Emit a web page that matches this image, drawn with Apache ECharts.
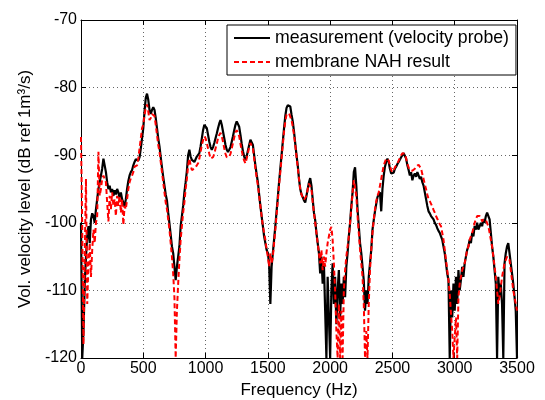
<!DOCTYPE html>
<html>
<head>
<meta charset="utf-8">
<script src="https://cdn.jsdelivr.net/npm/echarts@6/dist/echarts.min.js"></script>
<style>
html,body{margin:0;padding:0;background:#fff;}
#c{width:545px;height:400px;}
</style>
</head>
<body>
<div id="c"></div>
<script>
// Frequency grid step (Hz) of the sampled spectra
const freqStep = 10;
const xTicks = [0, 500, 1000, 1500, 2000, 2500, 3000, 3500];
const yTicks = [-120, -110, -100, -90, -80, -70];
const seriesNames = ['measurement (velocity probe)', 'membrane NAH result'];

// measurement (velocity probe), dB, every 10 Hz from 0 to 3500 Hz
const measurement = [
  -100, -120, -116, -109, -105, -102, -100.5, -103, -99.5, -98.6,
  -99, -100, -98, -96.5, -95, -94, -93, -92, -90.5, -91.5,
  -92.5, -94, -95, -94.5, -95.5, -95, -96, -95.2, -95.8, -95,
  -95.5, -96.3, -95.5, -96.5, -97, -97.6, -96.5, -95, -93.8, -93,
  -92.5, -92.2, -91.5, -91, -90.6, -90.5, -90.8, -90.3, -89, -87.5,
  -86, -83.5, -81.5, -80.9, -81.8, -83.3, -83.9, -83.3, -82.9, -83.3,
  -84.5, -86, -87.5, -88.7, -90.3, -91.8, -93.2, -94.5, -95.8, -96.7,
  -98.5, -100.1, -101.8, -103.5, -104.5, -106.5, -108.5, -106.5, -105, -103.5,
  -100.5, -99, -97.5, -95.5, -94, -92.3, -90, -89.2, -90.2, -90.7,
  -90.7, -91, -90.6, -90.2, -90.4, -89.7, -88.7, -87.5, -86.3, -85.5,
  -85.4, -86, -87, -88, -88.8, -89.2, -88.8, -88.2, -87.5, -86.8,
  -86, -85.3, -84.8, -85.5, -86.5, -87.5, -88.5, -89.2, -89.5, -89.2,
  -88.8, -88, -87.2, -86.3, -85.5, -85, -84.8, -85.8, -87, -88.3,
  -89.4, -90.2, -90.7, -90.2, -89.3, -88.5, -87.7, -87.5, -88.5, -90,
  -91.5, -92.8, -94, -95.8, -97.5, -99, -100.5, -102, -103, -104,
  -104.5, -106, -112, -106.5, -104.5, -102.5, -100.5, -98.3, -96.2, -94,
  -92, -90, -88, -86, -84.2, -83, -82.6, -82.5, -82.8, -84,
  -85, -86.5, -88.3, -90, -91.5, -93.5, -95, -95.8, -96.2, -96.7,
  -97, -96, -95, -94, -93.4, -94.5, -96.5, -98.5, -99.6, -101.5,
  -103, -104.5, -107.5, -105, -109, -106, -113, -120, -108, -114,
  -120, -110, -106, -112, -108, -115, -110, -107, -114, -109,
  -112, -108, -111, -106.5, -104.5, -102, -100, -97.5, -95.5, -92.5,
  -91.8, -94.5, -98, -100.5, -103, -104.5, -106.5, -108.5, -113, -110,
  -112, -108, -106, -104, -101, -99.6, -98.3, -97.2, -96.2, -95.8,
  -95.5, -98.3, -95, -93, -91.7, -91, -90.5, -91, -92, -92.7,
  -92.7, -92.6, -92, -91.7, -91.3, -91, -90.8, -90.3, -90, -89.7,
  -89.8, -90.5, -91.5, -92.2, -93, -92.5, -93.7, -93, -92.7, -93.2,
  -92.5, -93, -93.5, -93.2, -94, -94.5, -95.5, -96.5, -97.5, -98.3,
  -98.6, -99, -98.8, -99.5, -100, -100.3, -100.8, -101.2, -101.5, -102,
  -102.5, -103.5, -104.5, -106, -107.5, -108.5, -120, -110, -114, -109,
  -113, -108, -112, -107, -110, -108.4, -106.5, -108, -106, -105,
  -104, -103.5, -102.5, -103, -101.5, -102, -100.5, -101, -100, -101,
  -101, -100, -100.5, -99.5, -100, -99, -98.5, -98.3, -99.5, -101.5,
  -103.5, -105, -107, -109, -120, -108, -111, -109, -112, -120,
  -106, -104.5, -103.5, -103, -104.5, -106, -107.5, -109, -110.9, -113,
  -120
];

// membrane NAH result, dB, every 10 Hz from 0 to 3500 Hz
const nahResult = [
  -87.3, -101, -118, -105, -93.5, -112, -106, -103, -108, -104,
  -101, -103, -100, -99, -89.5, -96, -95, -93.5, -93, -92.9,
  -94, -97, -99.8, -96, -98, -95.5, -97.5, -96.5, -99, -96,
  -97.5, -96, -98.5, -96.5, -100.3, -97.5, -98, -96.5, -95, -94,
  -93.4, -93, -92.5, -91.7, -91.8, -91.5, -90.5, -89, -87.5, -86,
  -85.5, -84, -83, -82.5, -83.5, -84.8, -84.5, -83.9, -83.7, -84.2,
  -85.5, -87, -88.5, -89.5, -91, -92.5, -94, -95.5, -97, -98,
  -99.5, -101, -103, -105, -107.5, -111, -120, -113, -109, -105.5,
  -102.5, -100.5, -98.5, -97, -95, -93.5, -91.5, -90.5, -91.5, -92.2,
  -92.3, -92, -91.8, -91.5, -91.2, -90.5, -89.5, -88.5, -87.8, -87.2,
  -87.5, -88.2, -89, -89.8, -90.5, -90.7, -90.3, -89.8, -89, -88.3,
  -87.5, -87, -86.7, -87.2, -88, -89, -89.8, -90.3, -90.5, -90.2,
  -89.8, -89, -88.2, -87.4, -86.6, -86.3, -86.4, -87.2, -88.3, -89.3,
  -90.2, -90.8, -91.2, -90.5, -89.7, -88.8, -88.2, -88, -89, -90.5,
  -92, -93.3, -94.5, -96, -97.5, -99, -100.5, -101.5, -102.5, -104,
  -105, -106.5, -104.5, -106, -105, -103, -101, -98.8, -96.7, -94.5,
  -92.5, -90.5, -88.5, -86.5, -85, -84, -83.8, -83.8, -84, -84.8,
  -85.8, -87, -88.5, -90.2, -91.8, -93.5, -95, -95.8, -96.3, -96.6,
  -96.8, -96, -95, -94.2, -94, -95, -97, -98.5, -100, -101.5,
  -103, -104.5, -106, -104, -107, -105, -106.5, -104.5, -103, -102,
  -101, -100.6, -102.5, -106, -110, -116, -120, -112, -120, -113,
  -120, -110, -107, -105, -103.5, -102, -100, -98, -95.5, -93.7,
  -93.5, -96, -99, -101.5, -104, -106, -108, -112, -120, -116,
  -120, -112, -107, -104, -101.5, -99.6, -98, -96.8, -96, -95.5,
  -94.5, -93.5, -92.5, -91.5, -91, -90.5, -90.3, -90.8, -91.5, -92.2,
  -92.5, -92.2, -91.8, -91.5, -91.2, -90.8, -90.4, -90, -89.7, -89.6,
  -89.8, -90.5, -91.3, -91.8, -92.2, -92, -92.3, -92.2, -92, -91.7,
  -91.5, -91.4, -91.5, -92, -92.8, -93.5, -94.3, -95, -95.8, -96.5,
  -96.8, -97.2, -97.6, -98.1, -98.5, -99, -99.4, -99.8, -100.2, -100.5,
  -101.5, -102.5, -104, -105.5, -107, -108.5, -110.5, -113.4, -116, -120,
  -120, -114, -120, -111, -109, -108, -107, -106.5, -106, -105,
  -104, -103.5, -102.5, -102, -101.5, -100.8, -100, -99.5, -99, -98.8,
  -99, -99.3, -99.8, -99.5, -99.6, -99.6, -99.8, -100.5, -101.5, -102.5,
  -103.5, -105, -106.5, -108, -110, -112, -111, -109.5, -108, -107,
  -106, -105.5, -105, -104.8, -105.5, -107, -108.5, -110, -111, -112,
  -113
];

const toPairs = arr => arr.map((v, i) => [i * freqStep, v]);

const font = '"Liberation Sans", Arial, Helvetica, sans-serif';
const chart = echarts.init(document.getElementById('c'), null, {renderer: 'canvas'});

const xMin = xTicks[0], xMax = xTicks[xTicks.length - 1];
const yMin = yTicks[0], yMax = yTicks[yTicks.length - 1];
const xInt = xTicks[1] - xTicks[0], yInt = yTicks[1] - yTicks[0];

const gridLine = {show: true, lineStyle: {color: '#666', type: [1, 3], width: 1}};
const plain = v => String(v);

chart.setOption({
  animation: false,
  backgroundColor: '#fff',
  grid: {left: 81, right: 28, top: 20, bottom: 42, containLabel: false, outerBoundsMode: 'none'},
  legend: {
    left: 227, top: 25,
    orient: 'vertical',
    backgroundColor: '#fff',
    borderColor: '#000',
    borderWidth: 1,
    borderRadius: 0,
    padding: [3, 7, 3, 6],
    itemGap: 4,
    itemWidth: 36,
    itemHeight: 14,
    itemStyle: {opacity: 0},
    textStyle: {fontFamily: font, fontSize: 17.7, color: '#000', lineHeight: 20},
    data: seriesNames
  },
  xAxis: [{
    type: 'value', min: xMin, max: xMax, interval: xInt,
    name: 'Frequency (Hz)', nameLocation: 'middle', nameGap: 23,
    nameTextStyle: {fontFamily: font, fontSize: 17, color: '#000'},
    axisLine: {show: true, onZero: false, lineStyle: {color: '#000', width: 1}},
    axisTick: {show: true, inside: true, length: 5, lineStyle: {color: '#000'}},
    axisLabel: {fontFamily: font, fontSize: 16, color: '#000', margin: 3, formatter: plain},
    splitLine: gridLine
  }, {
    type: 'value', min: xMin, max: xMax, interval: xInt, position: 'top',
    axisLine: {show: true, onZero: false, lineStyle: {color: '#000', width: 1}},
    axisTick: {show: true, inside: true, length: 5, lineStyle: {color: '#000'}},
    axisLabel: {show: false}, splitLine: {show: false}
  }],
  yAxis: [{
    type: 'value', min: yMin, max: yMax, interval: yInt,
    name: 'Vol. velocity level (dB ref 1m³/s)', nameLocation: 'middle', nameGap: 45,
    nameTextStyle: {fontFamily: font, fontSize: 17, color: '#000'},
    axisLine: {show: true, onZero: false, lineStyle: {color: '#000', width: 1}},
    axisTick: {show: true, inside: true, length: 5, lineStyle: {color: '#000'}},
    axisLabel: {fontFamily: font, fontSize: 16, color: '#000', margin: 4, formatter: plain},
    splitLine: gridLine
  }, {
    type: 'value', min: yMin, max: yMax, interval: yInt, position: 'right',
    axisLine: {show: true, onZero: false, lineStyle: {color: '#000', width: 1}},
    axisTick: {show: true, inside: true, length: 5, lineStyle: {color: '#000'}},
    axisLabel: {show: false}, splitLine: {show: false}
  }],
  series: [{
    name: seriesNames[0], type: 'line', xAxisIndex: 0, yAxisIndex: 0,
    data: toPairs(measurement), showSymbol: false, symbol: 'none',
    lineStyle: {color: '#000', width: 2.2}, itemStyle: {color: '#000'},
    clip: true, z: 2
  }, {
    name: seriesNames[1], type: 'line', xAxisIndex: 0, yAxisIndex: 0,
    data: toPairs(nahResult), showSymbol: false, symbol: 'none',
    lineStyle: {color: '#ff0000', width: 2, type: [5, 3]}, itemStyle: {color: '#ff0000'},
    clip: true, z: 3
  }]
});
</script>
</body>
</html>
